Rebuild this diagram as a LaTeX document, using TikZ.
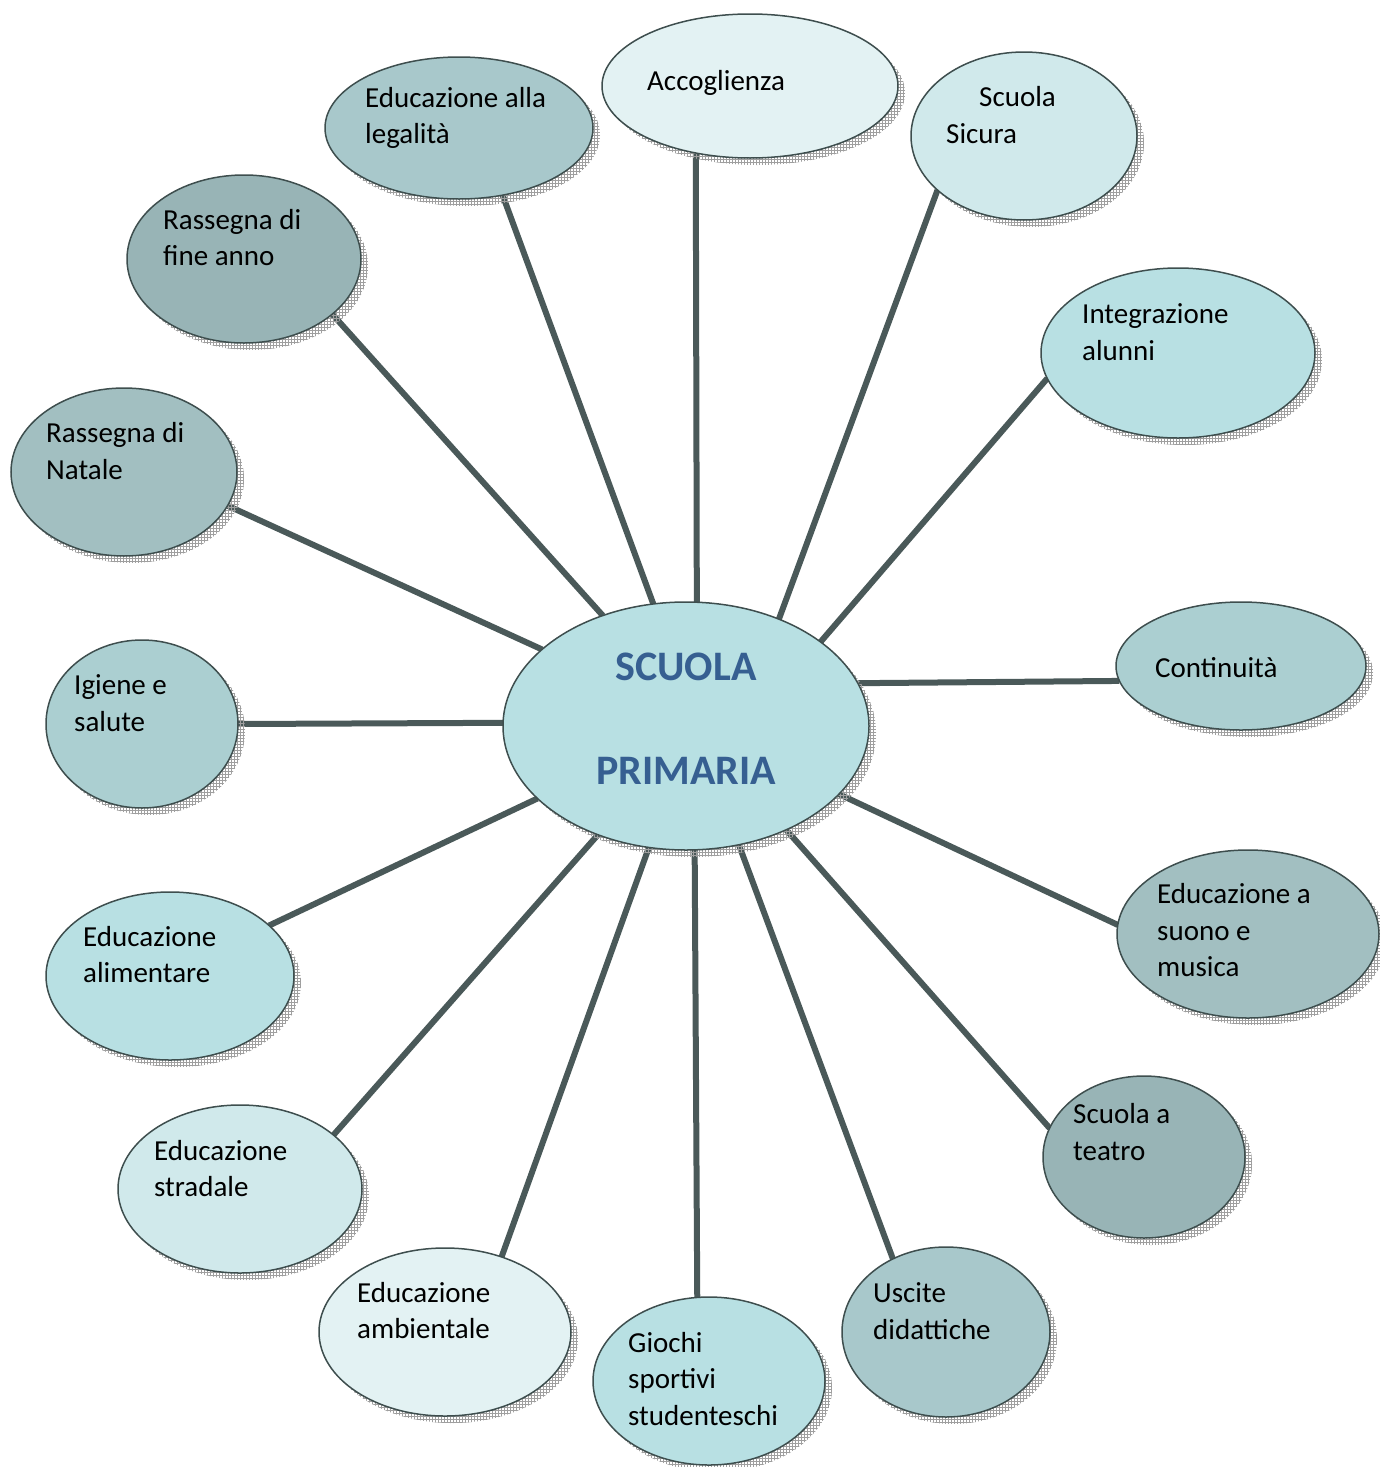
\documentclass[tikz,border=0pt]{standalone}
\usepackage{fontspec}
\setmainfont{Carlito}
\usetikzlibrary{shapes.geometric,shadows,patterns,backgrounds}
\definecolor{bordo}{HTML}{3E4E4E}
\definecolor{raggio}{HTML}{4A5959}
\definecolor{titolo}{HTML}{365F91}
\definecolor{tinta1}{HTML}{E3F2F3}
\definecolor{tinta2}{HTML}{D0E9EB}
\definecolor{tinta3}{HTML}{B8E0E3}
\definecolor{tinta4}{HTML}{ABCFD1}
\definecolor{tinta5}{HTML}{A8C8CB}
\definecolor{tinta6}{HTML}{A2BFC1}
\definecolor{tinta7}{HTML}{98B4B6}
\tikzset{
  bubble/.style={ellipse, draw=bordo, line width=1.5pt, inner sep=0pt, outer sep=0pt,
    drop shadow={shadow xshift=7pt, shadow yshift=-7pt, opacity=1,
      pattern=grid, pattern color=gray!75}},
  bubbletext/.style={inner sep=0pt, align=left, anchor=west,
    font=\fontsize{29}{36.5}\selectfont},
  spoke/.style={draw=raggio, line width=6pt},
}
\begin{document}
\begin{tikzpicture}[x=1pt, y=-1pt]
    \useasboundingbox (0,0) rectangle (1380,1467);

    % bolle
    \node[bubble, fill=tinta3, minimum width=366pt, minimum height=248pt] (hub) at (686,726) {};
    \node[bubble, fill=tinta1, minimum width=296pt, minimum height=144pt] (item1) at (750,86) {};
    \node[bubble, fill=tinta5, minimum width=268pt, minimum height=142pt] (item2) at (459,128) {};
    \node[bubble, fill=tinta2, minimum width=226pt, minimum height=168pt] (item3) at (1024,136) {};
    \node[bubble, fill=tinta3, minimum width=274pt, minimum height=170pt] (item4) at (1178,353) {};
    \node[bubble, fill=tinta4, minimum width=250pt, minimum height=128pt] (item5) at (1241,666) {};
    \node[bubble, fill=tinta6, minimum width=262pt, minimum height=168pt] (item6) at (1248,934) {};
    \node[bubble, fill=tinta7, minimum width=202pt, minimum height=162pt] (item7) at (1144,1157) {};
    \node[bubble, fill=tinta5, minimum width=208pt, minimum height=170pt] (item8) at (946,1332) {};
    \node[bubble, fill=tinta3, minimum width=232pt, minimum height=168pt] (item9) at (709,1381) {};
    \node[bubble, fill=tinta1, minimum width=252pt, minimum height=168pt] (item10) at (445,1332) {};
    \node[bubble, fill=tinta2, minimum width=244pt, minimum height=168pt] (item11) at (240,1189) {};
    \node[bubble, fill=tinta3, minimum width=248pt, minimum height=168pt] (item12) at (170,976) {};
    \node[bubble, fill=tinta4, minimum width=192pt, minimum height=168pt] (item13) at (142,724) {};
    \node[bubble, fill=tinta6, minimum width=226pt, minimum height=168pt] (item14) at (124,472) {};
    \node[bubble, fill=tinta7, minimum width=234pt, minimum height=168pt] (item15) at (244,259) {};

    % testi
    \node[inner sep=0pt, align=center, text=titolo, font=\fontsize{42}{104}\selectfont\bfseries] (hubtext) at (686,719) {SCUOLA\\PRIMARIA};
    \node[bubbletext] (text1) at (647,83) {Accoglienza};
    \node[bubbletext] (text2) at (365,118) {Educazione alla\\legalità};
    \node[bubbletext] (text3) at (946,115) {\hspace*{33pt}Scuola\\Sicura};
    \node[bubbletext] (text4) at (1082,332) {Integrazione\\alunni};
    \node[bubbletext] (text5) at (1155,668) {Continuità};
    \node[bubbletext] (text6) at (1157,930.5) {Educazione a\\suono e\\musica};
    \node[bubbletext] (text7) at (1073,1132) {Scuola a\\teatro};
    \node[bubbletext] (text8) at (873,1311) {Uscite\\didattiche};
    \node[bubbletext] (text9) at (628,1379) {Giochi\\sportivi\\studenteschi};
    \node[bubbletext] (text10) at (357,1310.5) {Educazione\\ambientale};
    \node[bubbletext] (text11) at (154,1168.5) {Educazione\\stradale};
    \node[bubbletext] (text12) at (83,954.5) {Educazione\\alimentare};
    \node[bubbletext] (text13) at (74,703) {Igiene e\\salute};
    \node[bubbletext] (text14) at (46,451) {Rassegna di\\Natale};
    \node[bubbletext] (text15) at (163,237.5) {Rassegna di\\fine anno};

    % raggi
    \begin{scope}[on background layer]
    \foreach \from/\to/\at in {85.4/item1/231.1, 105.6/item2/303.1, 49.6/item3/212.4,
        32.3/item4/191.7, 14.3/item5/187.5, 336.2/item6/176, 314.7/item7/163.7,
        294.2/item8/126.8, 274.6/item9/98.9, 253.6/item10/53.1, 231/item11/30.5,
        206.6/item12/27.5, 179.4/item13/0, 152.5/item14/342.7, 127.4/item15/328.1}
        \path[spoke] (hub.\from) -- (\to.\at);
    \end{scope}
\end{tikzpicture}
\end{document}
